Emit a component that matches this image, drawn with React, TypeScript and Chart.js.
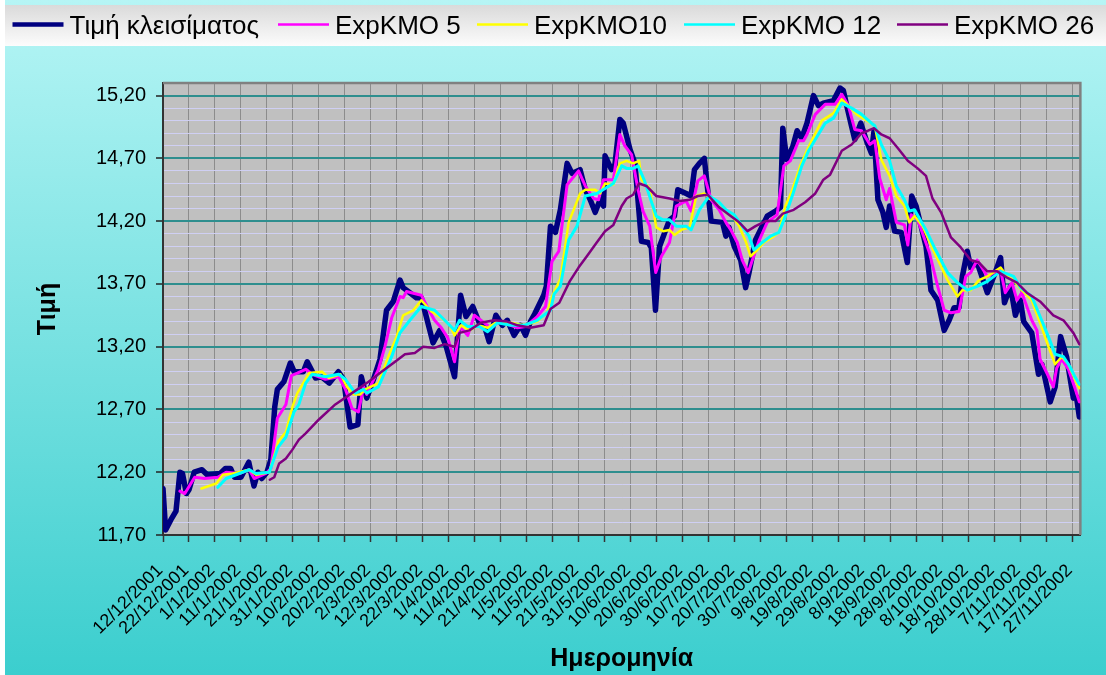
import React, { useEffect, useRef } from 'react';
import { Chart, registerables } from 'chart.js';

Chart.register(...registerables);
Chart.defaults.font.family = '"Liberation Sans", Arial, Helvetica, sans-serif';

// ---- axis definitions ----
const X_MIN = 0; // 12/12/2001 (day index)
const X_MAX = 353; // 30/11/2002
const DAYS_PER_TICK = 10;
const Y_MIN = 11.7;
const Y_MAX = 15.3;
const Y_MINOR = 0.1;
const Y_MAJOR_EVERY = 5; // minor steps per labelled step (0.5)

const xTickLabels = [
  '12/12/2001', '22/12/2001', '1/1/2002', '11/1/2002', '21/1/2002', '31/1/2002',
  '10/2/2002', '20/2/2002', '2/3/2002', '12/3/2002', '22/3/2002', '1/4/2002',
  '11/4/2002', '21/4/2002', '1/5/2002', '11/5/2002', '21/5/2002', '31/5/2002',
  '10/6/2002', '20/6/2002', '30/6/2002', '10/7/2002', '20/7/2002', '30/7/2002',
  '9/8/2002', '19/8/2002', '29/8/2002', '8/9/2002', '18/9/2002', '28/9/2002',
  '8/10/2002', '18/10/2002', '28/10/2002', '7/11/2002', '17/11/2002', '27/11/2002',
];
const yTickLabels = ['11,70', '12,20', '12,70', '13,20', '13,70', '14,20', '14,70', '15,20'];

const seriesNames = ['Τιμή κλεισίματος', 'ExpKMO 5', 'ExpKMO10', 'ExpKMO 12', 'ExpKMO 26'];
const seriesColors = ['#000080', '#FF00FF', '#FFFF00', '#00FFFF', '#800080'];

// ---- series values: [day since 12/12/2001, value] ----
const closePrice: [number, number][] = [
  [0, 12.07], [1, 11.74], [3, 11.82], [5, 11.89], [6.5, 12.2], [7.5, 12.19], [9, 12.03], [10, 12.06],
  [12, 12.2], [15, 12.22], [17, 12.18], [22, 12.19], [24, 12.23], [26, 12.23], [27.5, 12.16], [30, 12.16],
  [33, 12.28], [35, 12.09], [36.5, 12.2], [38, 12.15], [40, 12.2], [41.5, 12.3], [43, 12.72], [44, 12.86],
  [46.5, 12.92], [49, 13.07], [50.5, 13.0], [54, 13.0], [55.5, 13.08], [57, 13.02], [58.7, 12.95], [61, 12.96],
  [64, 12.91], [67.5, 13.0], [69.5, 12.94], [72, 12.56], [75, 12.58], [76.3, 12.96], [78.4, 12.79], [81, 12.94],
  [83.5, 13.1], [86, 13.49], [88.6, 13.56], [91.2, 13.73], [92.4, 13.67], [95, 13.63], [97.5, 13.59], [99.4, 13.59],
  [101.3, 13.44], [103.9, 13.23], [106.5, 13.33], [109, 13.2], [112.2, 12.96], [114.5, 13.61], [116.6, 13.44],
  [119.2, 13.52], [121.7, 13.39], [123.6, 13.37], [125.5, 13.24], [128.1, 13.45], [130.6, 13.37], [132.5, 13.41],
  [135.1, 13.29], [137.6, 13.37], [139.5, 13.29], [141.4, 13.4], [143, 13.46], [146.5, 13.61], [147.5, 13.68],
  [149.1, 14.16], [151, 14.11], [152.9, 14.29], [155.5, 14.66], [157.4, 14.58], [160.5, 14.61], [162.5, 14.45],
  [164.4, 14.37], [166.3, 14.27], [168.2, 14.37], [169.5, 14.32], [170.1, 14.72], [172.6, 14.61], [173.9, 14.65],
  [175.8, 15.01], [177.1, 14.98], [179.7, 14.77], [181.6, 14.66], [184.1, 14.04], [186.7, 14.03], [187.9, 13.99],
  [189.5, 13.49], [191.1, 14.0], [194.9, 14.21], [196.8, 14.24], [198.1, 14.45], [201.3, 14.42], [203.2, 14.4],
  [204.5, 14.61], [206.4, 14.66], [208.3, 14.7], [210.9, 14.2], [215.3, 14.19], [216.6, 14.08], [217.8, 14.15],
  [219.8, 14.0], [222.3, 13.89], [224.2, 13.67], [225.5, 13.79], [228, 14.05], [229.9, 14.13], [232.5, 14.24],
  [235.7, 14.28], [237.6, 14.31], [238.5, 14.94], [240, 14.69], [242.3, 14.79], [244, 14.92], [245.8, 14.86],
  [247.8, 14.98], [250.3, 15.2], [252.2, 15.12], [254.1, 15.14], [258, 15.16], [260.5, 15.26], [261.8, 15.24],
  [263.1, 15.12], [264.9, 14.96], [266.2, 14.85], [268.5, 14.98], [270.7, 14.84], [272.6, 14.74], [273.6, 14.92],
  [275.1, 14.37], [277, 14.27], [278.3, 14.15], [279.6, 14.32], [281.5, 14.12], [284.1, 14.11], [286.4, 13.87],
  [288.1, 14.4], [289.8, 14.32], [291.7, 14.16], [293.6, 14.0], [295.5, 13.65], [298.1, 13.57], [300.6, 13.33],
  [302.5, 13.41], [304.4, 13.51], [306.3, 13.51], [307.6, 13.76], [309.5, 13.96], [310.8, 13.83], [313.3, 13.87],
  [317.2, 13.63], [319.7, 13.76], [322.3, 13.91], [323.8, 13.55], [326.1, 13.68], [328, 13.45], [329.9, 13.57],
  [331.2, 13.4], [334.3, 13.31], [336.9, 12.98], [338.2, 13.06], [341.4, 12.76], [343.3, 12.88], [345.4, 13.28],
  [347.7, 13.12], [350.3, 12.79], [351.5, 12.8], [352.6, 12.64],
];

const expKMO5: [number, number][] = [
  [6.5, 12.05], [8.4, 12.03], [12.2, 12.16], [16, 12.15], [21.1, 12.16], [24.3, 12.2], [29.4, 12.19], [33.2, 12.22],
  [35.1, 12.15], [39.6, 12.19], [41.5, 12.23], [44, 12.63], [47.3, 12.74], [49.4, 12.97], [51.7, 12.99], [54.9, 13.02],
  [57.4, 12.98], [62.5, 12.94], [67.6, 12.96], [70.2, 12.86], [72.7, 12.71], [75.2, 12.68], [77.2, 12.88], [78.4, 12.82],
  [82.9, 13.02], [85.4, 13.2], [88, 13.43], [91.2, 13.6], [92.4, 13.59], [93.7, 13.64], [99.4, 13.61], [102.6, 13.48],
  [104.5, 13.41], [107.1, 13.35], [109.6, 13.27], [112.2, 13.08], [114.1, 13.36], [117.3, 13.29], [119.8, 13.45],
  [122.3, 13.41], [126.2, 13.35], [128.7, 13.4], [133.8, 13.37], [136.4, 13.35], [139.5, 13.36], [144, 13.44],
  [147.2, 13.52], [149.7, 13.88], [152.3, 13.96], [155.5, 14.49], [159.9, 14.6], [162.5, 14.48], [165.7, 14.38],
  [167.6, 14.37], [169.5, 14.53], [173.3, 14.53], [175.8, 14.89], [177.7, 14.8], [180.3, 14.73], [182.8, 14.45],
  [184.7, 14.28], [187.3, 14.16], [189.6, 13.79], [191.8, 13.92], [194.9, 14.03], [197.5, 14.32], [201.3, 14.36],
  [203.2, 14.28], [205.8, 14.52], [208.3, 14.56], [210.9, 14.37], [214, 14.29], [216.6, 14.19], [218.5, 14.13],
  [221, 14.03], [222.9, 13.89], [225.2, 13.79], [226.8, 13.89], [229.3, 14.04], [232.5, 14.19], [236.3, 14.25],
  [238.9, 14.64], [241.4, 14.68], [244.6, 14.84], [246.5, 14.84], [247.8, 14.89], [251, 15.05], [254.8, 15.13],
  [258.6, 15.13], [261.2, 15.21], [263.7, 15.12], [266.2, 14.93], [268.8, 14.92], [272, 14.81], [273.9, 14.84],
  [275.8, 14.54], [278.3, 14.37], [279.6, 14.46], [282.2, 14.19], [285.3, 14.17], [286.6, 14.01], [287.9, 14.25],
  [290.4, 14.21], [294.9, 13.95], [298.1, 13.68], [300.6, 13.49], [303.2, 13.47], [306.3, 13.48], [308.9, 13.76],
  [310.8, 13.79], [313.3, 13.89], [317.2, 13.76], [319.7, 13.79], [322.3, 13.81], [324.1, 13.63], [326.7, 13.71],
  [328.6, 13.57], [330.5, 13.63], [332.4, 13.52], [334.3, 13.41], [336.3, 13.33], [337.5, 13.1], [340.1, 12.99],
  [342.6, 12.88], [343.9, 13.03], [345.8, 13.1], [348.4, 13.02], [350.9, 12.87], [352.6, 12.76],
];

const expKMO10: [number, number][] = [
  [14.8, 12.07], [20.5, 12.11], [23, 12.18], [26.9, 12.19], [33.2, 12.22], [35.8, 12.18], [40.9, 12.2], [44.5, 12.45],
  [47.3, 12.52], [49.8, 12.72], [51.7, 12.83], [56.2, 12.99], [61.2, 13.0], [63.8, 12.95], [68.3, 12.98], [70.8, 12.88],
  [73.3, 12.82], [75.9, 12.82], [77.8, 12.86], [82.9, 12.91], [86.7, 13.12], [89.9, 13.28], [92.4, 13.45], [96.3, 13.49],
  [99.4, 13.57], [103.3, 13.48], [107.1, 13.43], [110.3, 13.37], [112.2, 13.29], [114.7, 13.37], [117.9, 13.33],
  [121.1, 13.37], [124.9, 13.35], [128.7, 13.4], [133.8, 13.39], [138.9, 13.37], [144, 13.4], [147.8, 13.47],
  [149.7, 13.6], [152.9, 13.74], [156.1, 14.19], [160.5, 14.42], [162.5, 14.45], [166.3, 14.45], [168.2, 14.42],
  [170.1, 14.5], [173.3, 14.49], [175.8, 14.66], [178.4, 14.68], [180.9, 14.66], [183.2, 14.68], [184.1, 14.53],
  [187.3, 14.46], [189.8, 14.15], [192.4, 14.12], [194.9, 14.13], [196.8, 14.09], [199.4, 14.13], [202.6, 14.15],
  [205.2, 14.4], [208.3, 14.42], [210.2, 14.38], [214, 14.35], [216.6, 14.27], [219.1, 14.24], [221.7, 14.16],
  [224.2, 14.04], [226.1, 13.92], [228.7, 13.97], [231.2, 14.03], [234.4, 14.07], [237, 14.11], [239.5, 14.32],
  [242, 14.44], [245.2, 14.64], [248.4, 14.79], [253.5, 15.0], [258, 15.06], [261.2, 15.17], [263.7, 15.12],
  [266.9, 15.05], [270.1, 15.01], [273.9, 14.96], [276.4, 14.69], [279.6, 14.56], [282.2, 14.4], [285.3, 14.32],
  [287.2, 14.19], [289.2, 14.24], [292.3, 14.16], [296.8, 13.95], [301.9, 13.73], [305.7, 13.6], [307.6, 13.65],
  [310.8, 13.65], [314, 13.73], [317.2, 13.76], [322.3, 13.83], [324.8, 13.76], [327.3, 13.73], [330, 13.66],
  [334.3, 13.57], [337.5, 13.39], [340.7, 13.2], [343.3, 13.06], [345.8, 13.12], [348.4, 13.06], [350.9, 12.94],
  [352.6, 12.87],
];

const expKMO12: [number, number][] = [
  [21.1, 12.08], [24.3, 12.15], [29.4, 12.19], [33.2, 12.22], [35.8, 12.19], [40.9, 12.2], [44.3, 12.4], [47.3, 12.48],
  [50.4, 12.68], [52.3, 12.74], [54.9, 12.91], [57.4, 12.98], [62.5, 12.96], [67.6, 12.98], [70.2, 12.94], [74, 12.83],
  [77.2, 12.86], [78.4, 12.83], [82.9, 12.88], [88, 13.12], [91.2, 13.31], [95, 13.41], [99.4, 13.52], [104.5, 13.49],
  [108.4, 13.41], [112.2, 13.33], [114.1, 13.41], [117.3, 13.36], [121.7, 13.36], [124.9, 13.32], [128.7, 13.39],
  [133.8, 13.37], [138.9, 13.37], [144, 13.41], [149.1, 13.49], [150.5, 13.62], [152.9, 13.68], [156.1, 14.05],
  [159.3, 14.16], [162.5, 14.4], [166.9, 14.42], [170.1, 14.46], [173.3, 14.5], [176.5, 14.64], [178.4, 14.62],
  [180.9, 14.62], [182.8, 14.64], [185.3, 14.52], [189.8, 14.24], [192.4, 14.21], [194.9, 14.21], [197.5, 14.16],
  [201.3, 14.16], [203.2, 14.13], [206.4, 14.29], [210.2, 14.4], [214, 14.35], [216.6, 14.29], [219.8, 14.25],
  [222.9, 14.16], [225.5, 14.08], [227.4, 13.97], [230.6, 14.03], [233.8, 14.08], [237, 14.11], [239.5, 14.24],
  [242.6, 14.43], [245.8, 14.64], [248.4, 14.76], [254.8, 14.98], [258, 15.02], [261.2, 15.14], [265, 15.1],
  [268.8, 15.05], [272.6, 14.98], [273.9, 14.96], [276.4, 14.81], [279.6, 14.68], [282.2, 14.48], [285.3, 14.37],
  [287.2, 14.28], [289.2, 14.29], [293.6, 14.13], [296.8, 13.99], [301.9, 13.79], [305.7, 13.71], [309.5, 13.65],
  [313.3, 13.68], [317.2, 13.72], [322.3, 13.8], [327.3, 13.76], [330, 13.67], [334.3, 13.6], [337.5, 13.44],
  [340.7, 13.28], [343.3, 13.14], [346.5, 13.12], [349, 13.04], [350.9, 12.96], [352.6, 12.9],
];

const expKMO26: [number, number][] = [
  [41.1, 12.14], [42.8, 12.16], [44.7, 12.27], [47.3, 12.31], [49.8, 12.38], [52.3, 12.46], [54.9, 12.51], [60, 12.62],
  [66.3, 12.74], [72.7, 12.83], [79.1, 12.92], [84.1, 13.0], [89.3, 13.08], [93.1, 13.14], [96.9, 13.15], [100.1, 13.2],
  [104.5, 13.19], [108.4, 13.22], [112.2, 13.2], [114.1, 13.31], [117.9, 13.33], [122.3, 13.39], [127.4, 13.41],
  [132.5, 13.4], [136.4, 13.37], [141.4, 13.35], [146.5, 13.37], [149.1, 13.5], [152.5, 13.55], [156.5, 13.72],
  [159.9, 13.83], [163.1, 13.92], [166.9, 14.03], [170.1, 14.12], [173.3, 14.17], [176.5, 14.32], [178.4, 14.38],
  [180.9, 14.41], [183.2, 14.5], [186, 14.48], [189.8, 14.4], [194.9, 14.38], [198.8, 14.36], [202.6, 14.37],
  [205.8, 14.4], [209.6, 14.41], [214, 14.31], [217.8, 14.25], [221.7, 14.19], [224.9, 14.12], [228, 14.16],
  [231.9, 14.2], [235.7, 14.2], [238.5, 14.26], [242.7, 14.29], [247.1, 14.35], [251, 14.42], [254.1, 14.53],
  [256.7, 14.57], [261.2, 14.76], [265, 14.81], [268.8, 14.9], [271.3, 14.92], [273.6, 14.94], [276.4, 14.89],
  [279.6, 14.86], [282.8, 14.78], [286.6, 14.68], [290.4, 14.62], [293.6, 14.56], [296.1, 14.38], [299.4, 14.27],
  [303.2, 14.07], [307, 13.99], [310.8, 13.89], [314, 13.87], [317.2, 13.8], [321, 13.8], [324.8, 13.75],
  [328.6, 13.71], [332.4, 13.63], [337.5, 13.56], [342.6, 13.45], [346.5, 13.41], [350.3, 13.31], [352.6, 13.22],
];

const seriesData = [closePrice, expKMO5, expKMO10, expKMO12, expKMO26];
const seriesLineWidths = [5.5, 3, 2.5, 3, 2.5];
const legendLineWidths = [4.5, 2.5, 2.5, 2.5, 2.5];
const legendItemX = [12.5, 278, 477, 684, 897];

const FONT = '"Liberation Sans", Arial, Helvetica, sans-serif';

const isMajorY = (i: number) => i % Y_MAJOR_EVERY === 0 && i / Y_MAJOR_EVERY < yTickLabels.length;

const decorPlugin = {
  id: 'decor',
  beforeDraw(chart: any) {
    const { ctx, width, height, chartArea: a } = chart;
    ctx.save();
    ctx.fillStyle = '#ffffff';
    ctx.fillRect(0, 0, width, height);
    const g = ctx.createLinearGradient(0, 0, 0, height);
    g.addColorStop(0, '#B6F5F5');
    g.addColorStop(1, '#3BCECE');
    ctx.fillStyle = g;
    ctx.fillRect(5, 0, width - 5, height);
    const lg = ctx.createLinearGradient(0, 5, 0, 46);
    lg.addColorStop(0, '#DADADA');
    lg.addColorStop(1, '#FCFCFC');
    ctx.fillStyle = lg;
    ctx.fillRect(5, 5, width - 5, 41);
    ctx.fillStyle = '#C0C0C0';
    ctx.fillRect(a.left, a.top, a.right - a.left, a.bottom - a.top);
    // legend
    ctx.font = '26px ' + FONT;
    ctx.textAlign = 'left';
    ctx.textBaseline = 'alphabetic';
    chart.data.datasets.forEach((ds: any, i: number) => {
      const x = legendItemX[i];
      ctx.strokeStyle = ds.borderColor;
      ctx.lineWidth = legendLineWidths[i];
      ctx.beginPath();
      ctx.moveTo(x, 24.5);
      ctx.lineTo(x + 51, 24.5);
      ctx.stroke();
      ctx.fillStyle = '#000000';
      ctx.fillText(ds.label, x + 57, 34);
    });
    ctx.restore();
  },
  beforeDatasetsDraw(chart: any) {
    const { ctx, chartArea: a } = chart;
    ctx.save();
    ctx.strokeStyle = '#808080';
    ctx.lineWidth = 2.5;
    ctx.beginPath();
    ctx.moveTo(a.left, a.top);
    ctx.lineTo(a.right, a.top);
    ctx.lineTo(a.right, a.bottom);
    ctx.stroke();
    ctx.restore();
  },
};

export default function App() {
  const ref = useRef<HTMLCanvasElement>(null);
  useEffect(() => {
    const canvas = ref.current;
    if (!canvas) return;
    const datasets = seriesData.map((arr, i) => ({
      label: seriesNames[i],
      data: arr.map(([x, y]) => ({ x, y })),
      borderColor: seriesColors[i],
      backgroundColor: seriesColors[i],
      borderWidth: seriesLineWidths[i],
      pointRadius: 0,
      pointHoverRadius: 0,
      tension: 0,
      fill: false,
      borderJoinStyle: 'round' as const,
      borderCapStyle: 'round' as const,
      order: seriesData.length - i,
    }));
    const chart = new Chart(canvas, {
      type: 'line',
      data: { datasets },
      plugins: [decorPlugin],
      options: {
        animation: false,
        responsive: false,
        devicePixelRatio: 1,
        layout: { padding: { left: 0, top: 83, right: 19, bottom: 0 } },
        plugins: {
          legend: { display: false },
          tooltip: { enabled: false },
        },
        scales: {
          x: {
            type: 'linear',
            min: X_MIN,
            max: X_MAX,
            bounds: 'data',
            afterBuildTicks: (scale: any) => {
              scale.ticks = xTickLabels.map((_, i) => ({ value: X_MIN + i * DAYS_PER_TICK }));
            },
            afterFit: (scale: any) => {
              scale.height = 140;
            },
            ticks: {
              autoSkip: false,
              minRotation: 45,
              maxRotation: 45,
              padding: 18,
              labelOffset: -3,
              color: '#000000',
              font: { size: 18, family: FONT },
              callback: (v: any) => xTickLabels[Math.round((Number(v) - X_MIN) / DAYS_PER_TICK)] ?? '',
            },
            grid: {
              color: '#8C8C8C',
              lineWidth: 1,
              drawTicks: true,
              tickLength: 7,
              tickColor: '#333333',
              tickWidth: 1.5,
            },
            border: { display: true, color: '#333333', width: 2 },
            title: {
              display: true,
              text: 'Ημερομηνία',
              color: '#000000',
              font: { size: 25, weight: 'bold', family: FONT },
              padding: { top: 0, bottom: 1 },
            },
          },
          y: {
            type: 'linear',
            min: Y_MIN,
            max: Y_MAX,
            bounds: 'data',
            afterBuildTicks: (scale: any) => {
              const n = Math.round((Y_MAX - Y_MIN) / Y_MINOR);
              const t = [];
              for (let i = 0; i <= n; i++) t.push({ value: Math.round((Y_MIN + i * Y_MINOR) * 100) / 100 });
              scale.ticks = t;
            },
            afterFit: (scale: any) => {
              scale.width = 163;
            },
            ticks: {
              autoSkip: false,
              padding: 10,
              color: '#000000',
              font: { size: 20, family: FONT },
              callback: (_v: any, i: number) => (isMajorY(i) ? yTickLabels[i / Y_MAJOR_EVERY] : ''),
            },
            grid: {
              color: (c: any) => (isMajorY(c.index) ? '#2E8E8E' : '#CFCFF3'),
              lineWidth: (c: any) => (isMajorY(c.index) ? 2 : 1),
              drawTicks: true,
              tickLength: 7,
              tickColor: (c: any) => (isMajorY(c.index) ? '#222222' : 'rgba(0,0,0,0)'),
              tickWidth: 1.5,
            },
            border: { display: true, color: '#333333', width: 2 },
            title: {
              display: true,
              text: 'Τιμή',
              color: '#000000',
              font: { size: 25, weight: 'bold', family: FONT },
              padding: { top: 33, bottom: 0 },
            },
          },
        },
      } as any,
    });
    return () => chart.destroy();
  }, []);
  return (
    <div style={{ position: 'absolute', left: 0, top: 0, width: 1106, height: 675 }}>
      <canvas ref={ref} width={1106} height={675} style={{ display: 'block', width: 1106, height: 675 }} />
    </div>
  );
}
